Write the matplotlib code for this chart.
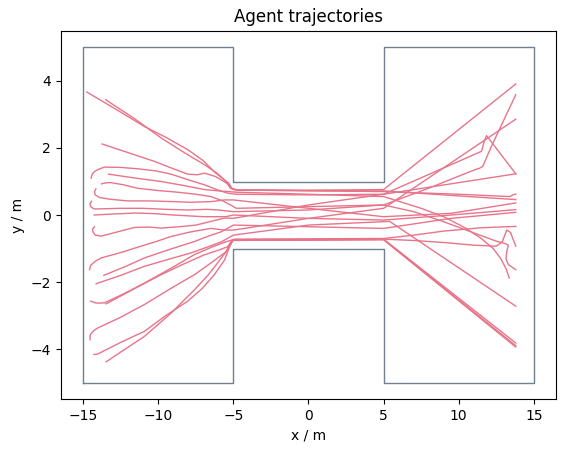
import numpy as np
import matplotlib
matplotlib.use("Agg")
import matplotlib.pyplot as plt

# walkable area (H shape): two rooms connected by a corridor
geo_x = [-15, -15, -5, -5, 5, 5, 15, 15, 5, 5, -5, -5, -15]
geo_y = [-5, 5, 5, 1, 1, 5, 5, -5, -5, -1, -1, -5, -5]

# agent trajectories (metres)
agent_xs = [
    [-14.76, -12.8, -10.92, -9.5, -8.04, -7.0, -6.3, -5.8, -5.49, -5.2, -4.9, 0, 5.0, 13.8],
    [-13.5, -11.6, -9.81, -8.3, -6.92, -6.1, -5.6, -5.3, -5.1, -4.8, 0, 5, 9, 13.8],
    [-13.74, -12.0, -10.25, -9.0, -8.04, -7.4, -6.92, -6.2, -5.7, -5.3, -5.1, -4.8, 0, 5, 10, 13.4, 13.6, 13.8],
    [-14.47, -14.4, -14.25, -13.9, -13.58, -12.5, -11.37, -10.2, -9.15, -8.0, -6.92, -6.0, -5.37, -4.8, 0, 5, 11.52, 11.7, 11.85, 13.8],
    [-13.32, -11.5, -9.81, -8.3, -6.92, -6.0, -5.3, -4.8, 0, 5, 7.5, 9, 10.5, 11.5, 12.3, 12.8, 13.15, 13.37],
    [-14.15, -14.25, -14.2, -13.9, -13.2, -12, -10.5, -9, -7.8, -6.5, -5.6, -5, 0, 5, 9.5, 13.8],
    [-13.78, -13.5, -13.2, -12.3, -11.4, -10.0, -8.7, -7.5, -6.5, -5.7, -5.2, -4.8, 0, 5, 7, 9, 10.8, 12.5, 13.1, 13.3, 13.2, 13.15, 13.3, 13.8],
    [-14.45, -14.55, -14.5, -14.35, -14.2, -12.5, -11, -9.5, -8, -6.8, -6, -5, 0, 5, 8, 11.18, 11.3, 11.4, 11.6, 12.18, 13.8],
    [-14.27, -13.0, -11.5, -10.2, -9, -7, -5.5, -5, 0, 5, 9.5, 13.8],
    [-14.25, -14.38, -14.35, -14.2, -13.8, -12.7, -11.58, -10.6, -9.81, -8.6, -7.5, -6.4, -5.59, -5, 0, 5, 13.8],
    [-14.58, -14.5, -14.2, -13.8, -12.5, -11.37, -10.2, -9.15, -7.8, -6.5, -5.6, -5, 0, 5, 13.8],
    [-13.63, -12.2, -10.92, -9.2, -7.59, -6.6, -5.8, -5, 0, 5, 9.5, 13.8],
    [-14.14, -12.5, -10.92, -9.3, -7.82, -6.7, -5.8, -5, 0, 5.4, 13.8],
    [-14.51, -14.2, -14.0, -13.58, -12.3, -10.92, -9.2, -7.59, -6.4, -5.5, -4.9, 0, 5, 7, 9, 11.5, 13.8],
    [-13.47, -11.6, -9.81, -8.4, -7.0, -6.0, -5.4, -5.05, 0, 5, 7, 9, 11, 12.5, 12.9, 13.2, 13.45, 13.6, 13.8],
    [-14.54, -14.55, -14.5, -14.3, -14.03, -12.5, -10.92, -9.2, -7.59, -6.4, -5.5, -5.1, 0, 5, 13.8],
    [-14.29, -14.15, -14.0, -12.5, -10.92, -9.5, -8.04, -7.1, -6.3, -5.6, -5.3, -5.05, 0, 5, 13.8],
    [-13.47, -12.2, -10.92, -9.2, -7.59, -6.7, -6.0, -5.5, -5.3, -5.0, 0, 5, 13.8],
]
agent_ys = [
    [3.67, 3.15, 2.64, 2.32, 1.95, 1.62, 1.3, 1.12, 1.0, 0.8, 0.75, 0.74, 0.76, 3.91],
    [3.44, 2.88, 2.30, 1.87, 1.5, 1.25, 1.05, 0.95, 0.78, 0.74, 0.73, 0.72, 0.6, 0.46],
    [2.12, 1.86, 1.60, 1.38, 1.22, 1.2, 1.25, 1.15, 1.02, 0.9, 0.8, 0.75, 0.72, 0.7, 0.62, 0.55, 0.6, 0.62],
    [1.10, 1.22, 1.30, 1.38, 1.43, 1.42, 1.38, 1.32, 1.22, 1.05, 0.9, 0.74, 0.65, 0.62, 0.6, 0.62, 1.9, 2.2, 2.37, 1.23],
    [1.22, 1.1, 1.0, 0.88, 0.76, 0.72, 0.7, 0.68, 0.62, 0.55, 0.2, -0.05, -0.4, -0.7, -1.0, -1.3, -1.6, -1.88],
    [0.78, 0.7, 0.6, 0.52, 0.47, 0.42, 0.42, 0.4, 0.38, 0.4, 0.45, 0.45, 0.2, -0.05, 0.05, 0.36],
    [0.93, 0.96, 0.97, 0.9, 0.8, 0.73, 0.68, 0.62, 0.55, 0.42, 0.3, 0.2, 0.25, 0.3, 0.1, -0.2, -0.5, -0.78, -0.85, -0.9, -1.1, -1.3, -1.48, -1.63],
    [0.41, 0.33, 0.25, 0.2, 0.18, 0.2, 0.2, 0.17, 0.15, 0.17, 0.15, 0.1, 0.15, 0.3, 0.8, 1.37, 1.38, 1.40, 1.45, 2.05, 3.59],
    [0.0, 0.03, 0.06, 0.04, 0.0, -0.05, -0.05, 0.0, -0.1, -0.15, 0.0, 0.16],
    [-0.35, -0.42, -0.5, -0.6, -0.63, -0.5, -0.37, -0.36, -0.39, -0.35, -0.3, -0.18, -0.09, -0.1, 0.3, 0.62, 1.23],
    [-1.63, -1.5, -1.38, -1.28, -1.12, -0.96, -0.8, -0.64, -0.5, -0.4, -0.45, -0.45, -0.1, 0.2, 2.86],
    [-1.80, -1.54, -1.28, -1.02, -0.79, -0.62, -0.5, -0.3, -0.35, -0.4, -0.1, 0.08],
    [-2.05, -1.8, -1.53, -1.32, -1.13, -0.95, -0.8, -0.6, -0.3, -0.19, -2.72],
    [-2.57, -2.62, -2.63, -2.62, -2.35, -2.03, -1.6, -1.18, -0.95, -0.8, -0.72, -0.71, -0.7, -0.6, -0.48, -0.38, -0.34],
    [-2.65, -2.2, -1.78, -1.48, -1.2, -1.05, -0.95, -0.74, -0.73, -0.72, -0.76, -0.82, -0.9, -0.93, -0.8, -0.45, -0.52, -0.7, -0.93],
    [-3.72, -3.62, -3.55, -3.45, -3.37, -3.05, -2.67, -2.2, -1.78, -1.4, -1.1, -0.76, -0.74, -0.72, -3.82],
    [-4.16, -4.16, -4.14, -3.8, -3.47, -3.0, -2.57, -2.2, -1.8, -1.35, -1.0, -0.75, -0.74, -0.73, -3.90],
    [-4.38, -4.0, -3.62, -2.95, -2.23, -1.8, -1.4, -1.1, -0.95, -0.75, -0.75, -0.74, -3.94],
]

fig = plt.figure(figsize=(5.66, 4.53), dpi=100)
ax = fig.add_axes([0.1072, 0.1185, 0.8757, 0.8137])

ax.plot(geo_x, geo_y, color="slategray", lw=1)
for xs, ys in zip(agent_xs, agent_ys):
    ax.plot(xs, ys, color="#e8748a", lw=1)

ax.set_xlim(-16.5, 16.5)
ax.set_ylim(-5.5, 5.5)
ax.set_title("Agent trajectories")
ax.set_xlabel("x / m")
ax.set_ylabel("y / m")

fig.savefig("out.png", dpi=100)
